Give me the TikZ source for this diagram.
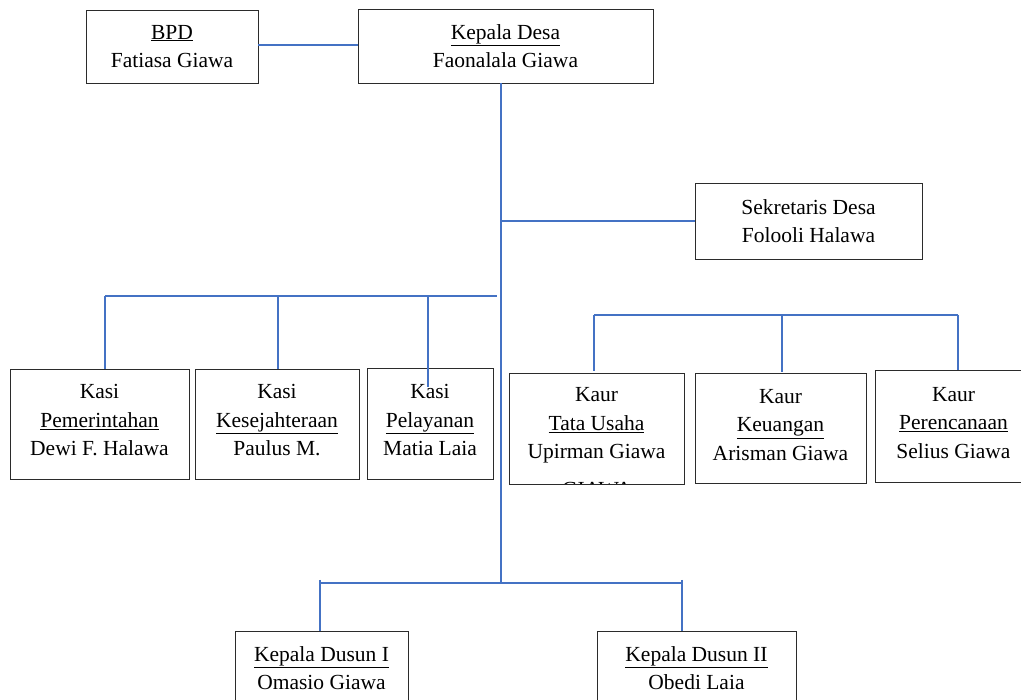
\documentclass[tikz,border=0pt]{standalone}
\usepackage{fontspec}
\setmainfont{Liberation Serif}
\definecolor{conn}{HTML}{4472C4}
\definecolor{boxline}{HTML}{2B2B2B}
\tikzset{
  orgbox/.style={draw=boxline, line width=0.9pt, fill=white, align=center, inner sep=0pt,
    font=\fontsize{21.5}{28.5}\selectfont},
  boxtext/.style={align=center, inner sep=0pt, font=\fontsize{21.5}{28.5}\selectfont},
  connline/.style={draw=conn, line width=1.25pt},
}
\begin{document}
\begin{tikzpicture}[x=1pt,y=-1pt]
\path[use as bounding box, clip] (0,0) rectangle (1021,700);
\fill[white] (0,0) rectangle (1021,700);

% boxes
\node[orgbox, minimum width=172pt, minimum height=73pt] (bpd) at (172,46.5) {\underline{BPD}\\Fatiasa Giawa};
\node[orgbox, minimum width=295pt, minimum height=74pt] (kd) at (505.5,46) {\underline{Kepala Desa}\\Faonalala Giawa};
\node[orgbox, minimum width=227pt, minimum height=76pt] (sek) at (808.5,221) {Sekretaris Desa\\Folooli Halawa};

\node[orgbox, minimum width=179pt, minimum height=110pt,
  label={[boxtext, yshift=3.5pt]center:Kasi\\\underline{Pemerintahan}\\Dewi F. Halawa}] (k1) at (99.5,424) {};
\node[orgbox, minimum width=164pt, minimum height=110pt,
  label={[boxtext, yshift=3.5pt]center:Kasi\\\underline{Kesejahteraan}\\Paulus M.}] (k2) at (277,424) {};
\node[orgbox, minimum width=126pt, minimum height=111pt,
  label={[boxtext, yshift=3.5pt]center:Kasi\\\underline{Pelayanan}\\Matia Laia}] (k3) at (430,423.5) {};

\node[orgbox, minimum width=175pt, minimum height=111pt,
  label={[boxtext, yshift=3pt]center:Kaur\\\underline{Tata Usaha}\\Upirman Giawa}] (tu) at (596.5,428.5) {};
\node[orgbox, minimum width=171pt, minimum height=110pt,
  label={[boxtext, yshift=3pt]center:Kaur\\\underline{Keuangan}\\Arisman Giawa}] (ku) at (780.5,428) {};
\node[orgbox, minimum width=157pt, minimum height=112pt,
  label={[boxtext, yshift=3pt]center:Kaur\\\underline{Perencanaan}\\Selius Giawa}] (kp) at (953.5,426) {};

\node[orgbox, minimum width=173pt, minimum height=74pt] (du1) at (321.5,668) {\underline{Kepala Dusun I}\\Omasio Giawa};
\node[orgbox, minimum width=199pt, minimum height=74pt] (du2) at (696.5,668) {\underline{Kepala Dusun II}\\Obedi Laia};

% clipped extra text in Tata Usaha box
\begin{scope}
  \clip ([xshift=1pt,yshift=1pt]tu.south west) rectangle ([xshift=-1pt]tu.north east);
  \node[boxtext, anchor=base] (tux) at (597,497) {GIAWA};
\end{scope}

% coordinates
\coordinate (tr) at (501,0);
\coordinate (jk) at (501,583);
\coordinate (kb) at (497,296);
\coordinate (d1) at (105,296);
\coordinate (d2) at (278,296);
\coordinate (d3) at (428,296);
\coordinate (d3e) at (428,387);
\coordinate (e1) at (594,315);
\coordinate (e2) at (782,315);
\coordinate (e3) at (958,315);
\coordinate (f1) at (320,583);
\coordinate (f2) at (682,583);

% connectors
\draw[connline] (bpd.east |- 0,45) -- (kd.west |- 0,45);
\draw[connline] (kd.south -| tr) -- (jk);
\draw[connline] (tr |- sek.west) -- (sek.west);

\draw[connline] (d1) -- (kb);
\draw[connline] (d1) -- (d1 |- k1.north);
\draw[connline] (d2) -- (d2 |- k2.north);
\draw[connline] (d3) -- (d3e);

\draw[connline] (e1) -- (e3);
\draw[connline] (e1) -- ([yshift=1.5pt]e1 |- tu.north);
\draw[connline] (e2) -- ([yshift=1pt]e2 |- ku.north);
\draw[connline] (e3) -- (e3 |- kp.north);

\draw[connline] (f1) -- (f2);
\draw[connline] ([yshift=3pt]f1) -- (f1 |- du1.north);
\draw[connline] ([yshift=3pt]f2) -- (f2 |- du2.north);
\end{tikzpicture}
\end{document}
